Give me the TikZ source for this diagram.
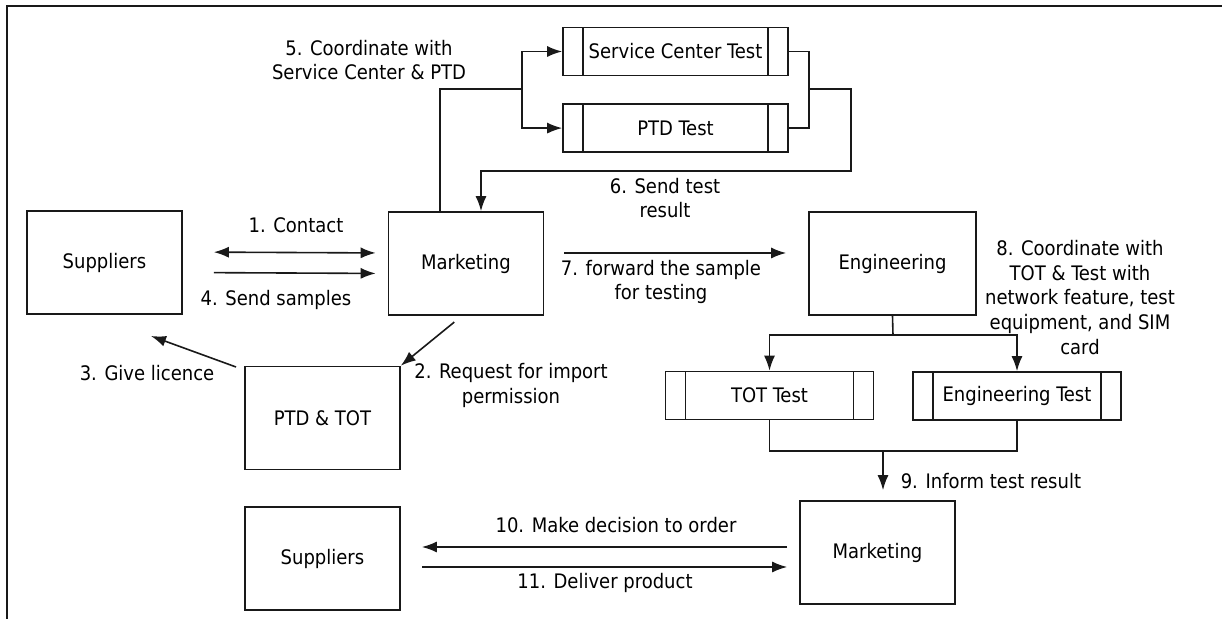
\documentclass[tikz,border=0pt]{standalone}
\usepackage{fontspec}
\setmainfont{DejaVu Sans Condensed}
\usetikzlibrary{positioning,arrows.meta}

\begin{document}
\begin{tikzpicture}[x=0.5pt, y=-0.5pt, >={Latex[length=7.5pt,width=5.5pt]},
  line width=0.8pt, black!90,
  every node/.style={font=\fontsize{10}{12.2}\selectfont, text=black},
  box/.style={draw, minimum width=77.5pt, minimum height=51.5pt, inner sep=0pt},
  testbox/.style={draw, minimum width=112.5pt, minimum height=24pt, inner sep=0pt,
    path picture={
      \draw ([xshift=10pt]path picture bounding box.north west) -- ([xshift=10pt]path picture bounding box.south west);
      \draw ([xshift=-10pt]path picture bounding box.north east) -- ([xshift=-10pt]path picture bounding box.south east);}},
  lbl/.style={align=center, inner sep=0pt}]
\useasboundingbox (0,0) rectangle (1222,619);

% frame
\draw (7,619) -- (7,6) -- (1222,6);

% boxes
\node [box] (sup1) at (104.5,262.5) {Suppliers};
\node [box] (mkt1) at (466,263.5) {Marketing};
\node [box, minimum width=83.5pt] (eng) at (892.5,263.5) {Engineering};
\node [box] (ptdtot) at (322.5,418) {PTD \& TOT};
\node [box, below=18pt of ptdtot] (sup2) {Suppliers};
\node [box] (mkt2) at (877.5,552.5) {Marketing};

\node [testbox] (sctest) at (675.5,51.5) {Service Center Test};
\node [testbox, below=13.5pt of sctest] (ptdtest) {PTD Test};
\node [testbox, minimum width=104pt] (tottest) at (769.5,395.5) {TOT Test};
\node [testbox, minimum width=104pt] (engtest) at (1017,396) {Engineering Test};

% junctions
\coordinate (j5) at (522,89);
\coordinate (j6) at (809,89);
\coordinate (r6) at (851,171);
\coordinate (j8) at (893,335);
\coordinate (j9) at (883,451);
\coordinate (s3) at (236,367);
\coordinate (e3) at (151,336);

% 1 and 4
\draw [<->, shorten <=15.5pt, shorten >=6pt] ([yshift=5.25pt]sup1.east) -- ([yshift=5.25pt]mkt1.west);
\draw [->, shorten <=15.5pt, shorten >=6pt] ([yshift=-5pt]sup1.east) -- ([yshift=-5pt]mkt1.west);

% 2 and 3
\draw [->, shorten <=5pt] ([xshift=-2pt]mkt1.south) -- (ptdtot.north east);
\draw [->] (s3) -- (e3);

% 5 and 6
\draw ([xshift=-13pt]mkt1.north) |- (j5);
\foreach \n in {sctest, ptdtest}
  \draw [->] (j5) |- (\n.west);
\draw (sctest.east) -| (j6) |- (ptdtest.east);
\draw [->] (j6) -| (r6) -| ([xshift=7.5pt]mkt1.north);

% 7
\draw [->, shorten <=10pt, shorten >=11pt] ([yshift=5.25pt]mkt1.east) -- ([yshift=5.25pt]eng.west);

% 8
\draw (eng.south) -- (j8);
\foreach \n in {tottest, engtest}
  \draw [->] (j8) -| (\n.north);

% 9
\draw (tottest.south) -- (tottest.south |- j9) -- (engtest.south |- j9) -- (engtest.south);
\draw [->, shorten >=5pt] (j9) -- (j9 |- mkt2.north);

% 10 and 11
\coordinate (a10) at ([yshift=2.75pt]mkt2.west);
\coordinate (a11) at ([yshift=-7.25pt]mkt2.west);
\draw [->, shorten <=6pt, shorten >=10.5pt] (a10) -- (a10 -| sup2.east);
\draw [<-, shorten <=6pt, shorten >=10.5pt] (a11) -- (a11 -| sup2.east);

% labels
\node [lbl] (l1) at (296,225) {1. Contact};
\node [lbl] (l2) at (511,385.5) {2. Request for import\\permission};
\node [lbl] (l3) at (147,373) {3. Give licence};
\node [lbl] (l4) at (276,300) {4. Send samples};
\node [lbl] (l5) at (369,60) {5. Coordinate with\\Service Center \& PTD};
\node [lbl] (l6) at (665,198) {6. Send test\\result};
\node [lbl] (l7) at (661,282) {7. forward the sample\\for testing};
\node [lbl, font=\fontsize{10}{12.4}\selectfont] (l8) at (1080,297.5)
  {8. Coordinate with\\TOT \& Test with\\network feature, test\\equipment, and SIM\\card};
\node [lbl, anchor=west] (l9) at (900,481) {9. Inform test result};
\node [lbl] (l10) at (616,525) {10. Make decision to order};
\node [lbl] (l11) at (605,583) {11. Deliver product};
\end{tikzpicture}
\end{document}
